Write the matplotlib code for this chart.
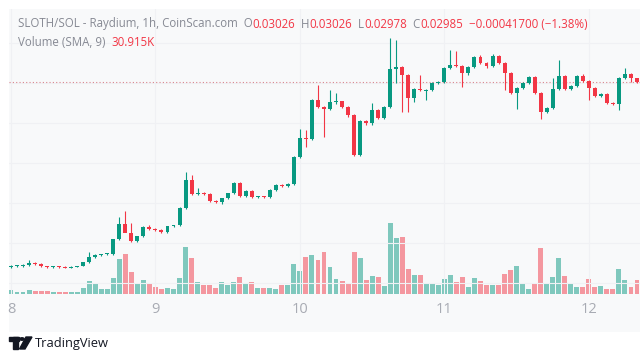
import matplotlib
matplotlib.use('Agg')
import matplotlib.pyplot as plt
import numpy as np
from matplotlib.patches import Rectangle, Polygon, Circle

# hourly candles, SLOTH/SOL, from day 8 00:00 to day 12 08:00
opens = [0.01135, 0.01145, 0.01148, 0.01155, 0.01175, 0.01170, 0.01145, 0.01135, 0.01140, 0.01138,
         0.01130, 0.01138, 0.01150, 0.01185, 0.01235, 0.01255, 0.01265, 0.01265, 0.01415, 0.01565,
         0.01475, 0.01395, 0.01445, 0.01535, 0.01515, 0.01508, 0.01485, 0.01545, 0.01552, 0.01725,
         0.02005, 0.01865, 0.01870, 0.01865, 0.01795, 0.01785, 0.01825, 0.01875, 0.01975, 0.01845,
         0.01895, 0.01835, 0.01840, 0.01832, 0.01905, 0.01955, 0.01945, 0.01965, 0.02235, 0.02425,
         0.02415, 0.02805, 0.02735, 0.02715, 0.02785, 0.02792, 0.02735, 0.02655, 0.02255, 0.02595,
         0.02575, 0.02705, 0.02625, 0.02735, 0.03115, 0.03135, 0.03055, 0.02825, 0.02915, 0.02895,
         0.02908, 0.02975, 0.02988, 0.03125, 0.03155, 0.03145, 0.03075, 0.03135, 0.03235, 0.03175,
         0.03145, 0.03245, 0.03175, 0.03075, 0.02875, 0.02925, 0.02975, 0.03035, 0.02875, 0.02685,
         0.02725, 0.02915, 0.03045, 0.02915, 0.02945, 0.03045, 0.02995, 0.02925, 0.02845, 0.02865,
         0.02775, 0.02770, 0.03025, 0.03065, 0.03026]
highs = [0.01155, 0.01155, 0.01165, 0.01205, 0.01185, 0.01180, 0.01150, 0.01145, 0.01145, 0.01142,
         0.01142, 0.01150, 0.01190, 0.01285, 0.01262, 0.01270, 0.01280, 0.01420, 0.01635, 0.01695,
         0.01575, 0.01450, 0.01545, 0.01560, 0.01530, 0.01520, 0.01550, 0.01560, 0.01735, 0.02085,
         0.02055, 0.01925, 0.01885, 0.01875, 0.01805, 0.01830, 0.01880, 0.01985, 0.01985, 0.01905,
         0.01905, 0.01850, 0.01848, 0.01915, 0.01962, 0.01968, 0.01975, 0.02245, 0.02515, 0.02505,
         0.02815, 0.02955, 0.02745, 0.02905, 0.02875, 0.02800, 0.02745, 0.02665, 0.02610, 0.02605,
         0.02775, 0.02720, 0.02745, 0.03425, 0.03405, 0.03145, 0.03065, 0.02925, 0.03055, 0.02915,
         0.02985, 0.02995, 0.03135, 0.03305, 0.03295, 0.03155, 0.03145, 0.03245, 0.03255, 0.03185,
         0.03265, 0.03255, 0.03185, 0.03085, 0.02935, 0.02985, 0.03045, 0.03045, 0.02885, 0.02735,
         0.03025, 0.03205, 0.03055, 0.02955, 0.03055, 0.03065, 0.03005, 0.02935, 0.02875, 0.02875,
         0.02785, 0.03035, 0.03125, 0.03075, 0.03026]
lows = [0.01125, 0.01135, 0.01135, 0.01145, 0.01160, 0.01140, 0.01130, 0.01130, 0.01130, 0.01125,
        0.01128, 0.01135, 0.01145, 0.01180, 0.01225, 0.01250, 0.01260, 0.01255, 0.01405, 0.01560,
        0.01385, 0.01385, 0.01440, 0.01505, 0.01495, 0.01475, 0.01480, 0.01540, 0.01545, 0.01715,
        0.01855, 0.01855, 0.01855, 0.01785, 0.01775, 0.01770, 0.01815, 0.01865, 0.01835, 0.01835,
        0.01830, 0.01828, 0.01825, 0.01828, 0.01900, 0.01940, 0.01940, 0.01960, 0.02225, 0.02335,
        0.02405, 0.02725, 0.02435, 0.02705, 0.02770, 0.02730, 0.02640, 0.02245, 0.02250, 0.02560,
        0.02560, 0.02615, 0.02615, 0.02725, 0.02975, 0.02685, 0.02685, 0.02785, 0.02895, 0.02805,
        0.02900, 0.02965, 0.02980, 0.03115, 0.03135, 0.02935, 0.03060, 0.03125, 0.03165, 0.03130,
        0.03135, 0.03165, 0.02905, 0.02865, 0.02715, 0.02915, 0.02965, 0.02865, 0.02615, 0.02675,
        0.02715, 0.02905, 0.02905, 0.02905, 0.02935, 0.02985, 0.02805, 0.02835, 0.02835, 0.02765,
        0.02755, 0.02705, 0.03015, 0.02985, 0.02978]
closes = [0.01145, 0.01148, 0.01155, 0.01175, 0.01170, 0.01145, 0.01135, 0.01140, 0.01138, 0.01130,
          0.01138, 0.01145, 0.01185, 0.01235, 0.01255, 0.01265, 0.01272, 0.01415, 0.01565, 0.01475,
          0.01395, 0.01445, 0.01535, 0.01520, 0.01508, 0.01485, 0.01545, 0.01552, 0.01725, 0.02005,
          0.01865, 0.01870, 0.01865, 0.01795, 0.01785, 0.01825, 0.01875, 0.01975, 0.01845, 0.01895,
          0.01835, 0.01840, 0.01832, 0.01905, 0.01955, 0.01945, 0.01965, 0.02235, 0.02425, 0.02415,
          0.02805, 0.02735, 0.02715, 0.02785, 0.02792, 0.02735, 0.02655, 0.02255, 0.02595, 0.02575,
          0.02705, 0.02625, 0.02735, 0.03115, 0.03135, 0.03055, 0.02825, 0.02915, 0.02905, 0.02908,
          0.02975, 0.02988, 0.03125, 0.03155, 0.03145, 0.03075, 0.03135, 0.03235, 0.03175, 0.03145,
          0.03245, 0.03175, 0.03075, 0.02875, 0.02925, 0.02975, 0.03035, 0.02875, 0.02685, 0.02725,
          0.02915, 0.03045, 0.02915, 0.02945, 0.03045, 0.02995, 0.02925, 0.02845, 0.02865, 0.02775,
          0.02770, 0.03025, 0.03065, 0.03026, 0.02985]
# volume in thousands
volumes = [10.2, 6.3, 5.5, 11.0, 8.3, 8.3, 8.3, 5.5, 5.5, 4.7,
           4.7, 4.7, 15.7, 35.8, 26.7, 14.6, 14.6, 43.2, 97.1, 110.8,
           61.3, 26.7, 37.7, 30.3, 19.3, 12.4, 16.5, 13.8, 43.2, 130.6,
           98.2, 33.8, 23.9, 24.8, 15.7, 32.2, 24.8, 33.8, 46.8, 26.7,
           33.8, 17.3, 15.7, 15.7, 13.8, 24.8, 24.8, 83.9, 63.3, 101.8,
           106.4, 93.5, 115.5, 75.1, 40.4, 35.8, 28.3, 115.5, 99.8, 37.7,
           49.5, 46.8, 22.0, 196.1, 153.2, 157.6, 67.4, 52.3, 52.3, 29.4,
           29.4, 24.8, 40.4, 52.3, 33.8, 46.8, 19.3, 43.2, 35.8, 24.8,
           24.8, 24.8, 54.2, 66.0, 77.0, 26.7, 14.6, 28.3, 127.3, 31.1,
           47.6, 98.2, 49.5, 26.7, 19.3, 19.3, 41.3, 19.3, 22.8, 14.6,
           14.6, 69.6, 39.3, 19.3, 37.7]
day_ticks = [0, 24, 48, 72, 96]
day_labels = ['8', '9', '10', '11', '12']
price_grid = [0.00975, 0.01375, 0.01775, 0.02175, 0.02575, 0.02975, 0.03375]

UP = '#089981'
DOWN = '#f23645'
GRAY = '#868993'
PANEL = '#f8f9fa'

W, H = 640, 360
fig = plt.figure(figsize=(6.4, 3.6), dpi=100)
fig.patch.set_facecolor('white')
plt.rcParams['font.family'] = ['Open Sans', 'DejaVu Sans']

def fx(px):
    return px / W

def fy(py):
    return 1 - py / H

fig.patches.append(Rectangle((fx(9), fy(332)), fx(631), 323 / H, transform=fig.transFigure,
                             facecolor=PANEL, edgecolor='none', zorder=0))

ax = fig.add_axes([fx(9), fy(294), fx(631), 285 / H])
ax.set_facecolor('none')
vax = ax.twinx()
ax.set_zorder(2)
vax.set_zorder(1)

x = np.arange(len(opens))
o = np.array(opens)
c = np.array(closes)
up = c >= o
colors = np.where(up, UP, DOWN)

# volume
vcol = [(0.031, 0.6, 0.506, 0.5) if u else (0.949, 0.212, 0.271, 0.5) for u in up]
vax.bar(x, volumes, width=0.82, color=vcol, linewidth=0)
vax.set_ylim(0, 784)

# candles
ax.vlines(x, lows, highs, colors=colors, linewidth=0.8, zorder=3)
body = np.maximum(np.abs(c - o), 0.00009)
ax.bar(x, body, bottom=np.minimum(o, c), width=0.66, color=colors, linewidth=0, zorder=4)

ax.axhline(closes[-1], color='#d9848d', linestyle=(0, (1, 2)), linewidth=0.8, zorder=2)

ax.set_xlim(-0.33, 104.5)
ax.set_ylim(0.00865, 0.03715)
vax.set_xlim(-0.33, 104.5)

ax.set_xticks(day_ticks)
ax.set_xticklabels(day_labels, fontsize=10.5, color='#a8abb3')
ax.set_yticks(price_grid)
ax.tick_params(axis='both', length=0, pad=6)
ax.tick_params(axis='y', labelleft=False)
vax.set_yticks([])
ax.grid(True, color='#f0f1f4', linewidth=0.8)
for a in (ax, vax):
    for s in a.spines.values():
        s.set_visible(False)

# header lines
r = fig.canvas.get_renderer()

def line(xpx, ypx, parts, size):
    cur = fx(xpx)
    for s, col in parts:
        t = fig.text(cur, fy(ypx), s, color=col, fontsize=size, va='center', ha='left')
        cur = t.get_window_extent(renderer=r).x1 / W

line(18, 24, [('SLOTH/SOL - Raydium, 1h, CoinScan.com  O', GRAY), ('0.03026', DOWN),
              ('  H', GRAY), ('0.03026', DOWN), ('  L', GRAY), ('0.02978', DOWN),
              ('  C', GRAY), ('0.02985', DOWN), ('  \u22120.00041700 (\u22121.38%)', DOWN)], 8.3)
line(18, 43, [('Volume (SMA, 9)  ', GRAY), ('30.915K', DOWN)], 8.3)

# TradingView logo
logo = '#131722'
fig.patches.append(Rectangle((fx(9), fy(341)), fx(10), 4 / H, transform=fig.transFigure, color=logo))
fig.patches.append(Rectangle((fx(13), fy(349)), fx(5), 12 / H, transform=fig.transFigure, color=logo))
fig.patches.append(Circle((fx(22), fy(339)), 2.2 / W, transform=fig.transFigure, color=logo))
fig.patches.append(Polygon([(fx(26), fy(337)), (fx(32), fy(337)), (fx(25), fy(349)), (fx(19.5), fy(349))],
                           closed=True, transform=fig.transFigure, color=logo))
fig.text(fx(35), fy(343), 'TradingView', color=logo, fontsize=9.3, va='center', ha='left')

fig.savefig('out.png', dpi=100, facecolor='white')
